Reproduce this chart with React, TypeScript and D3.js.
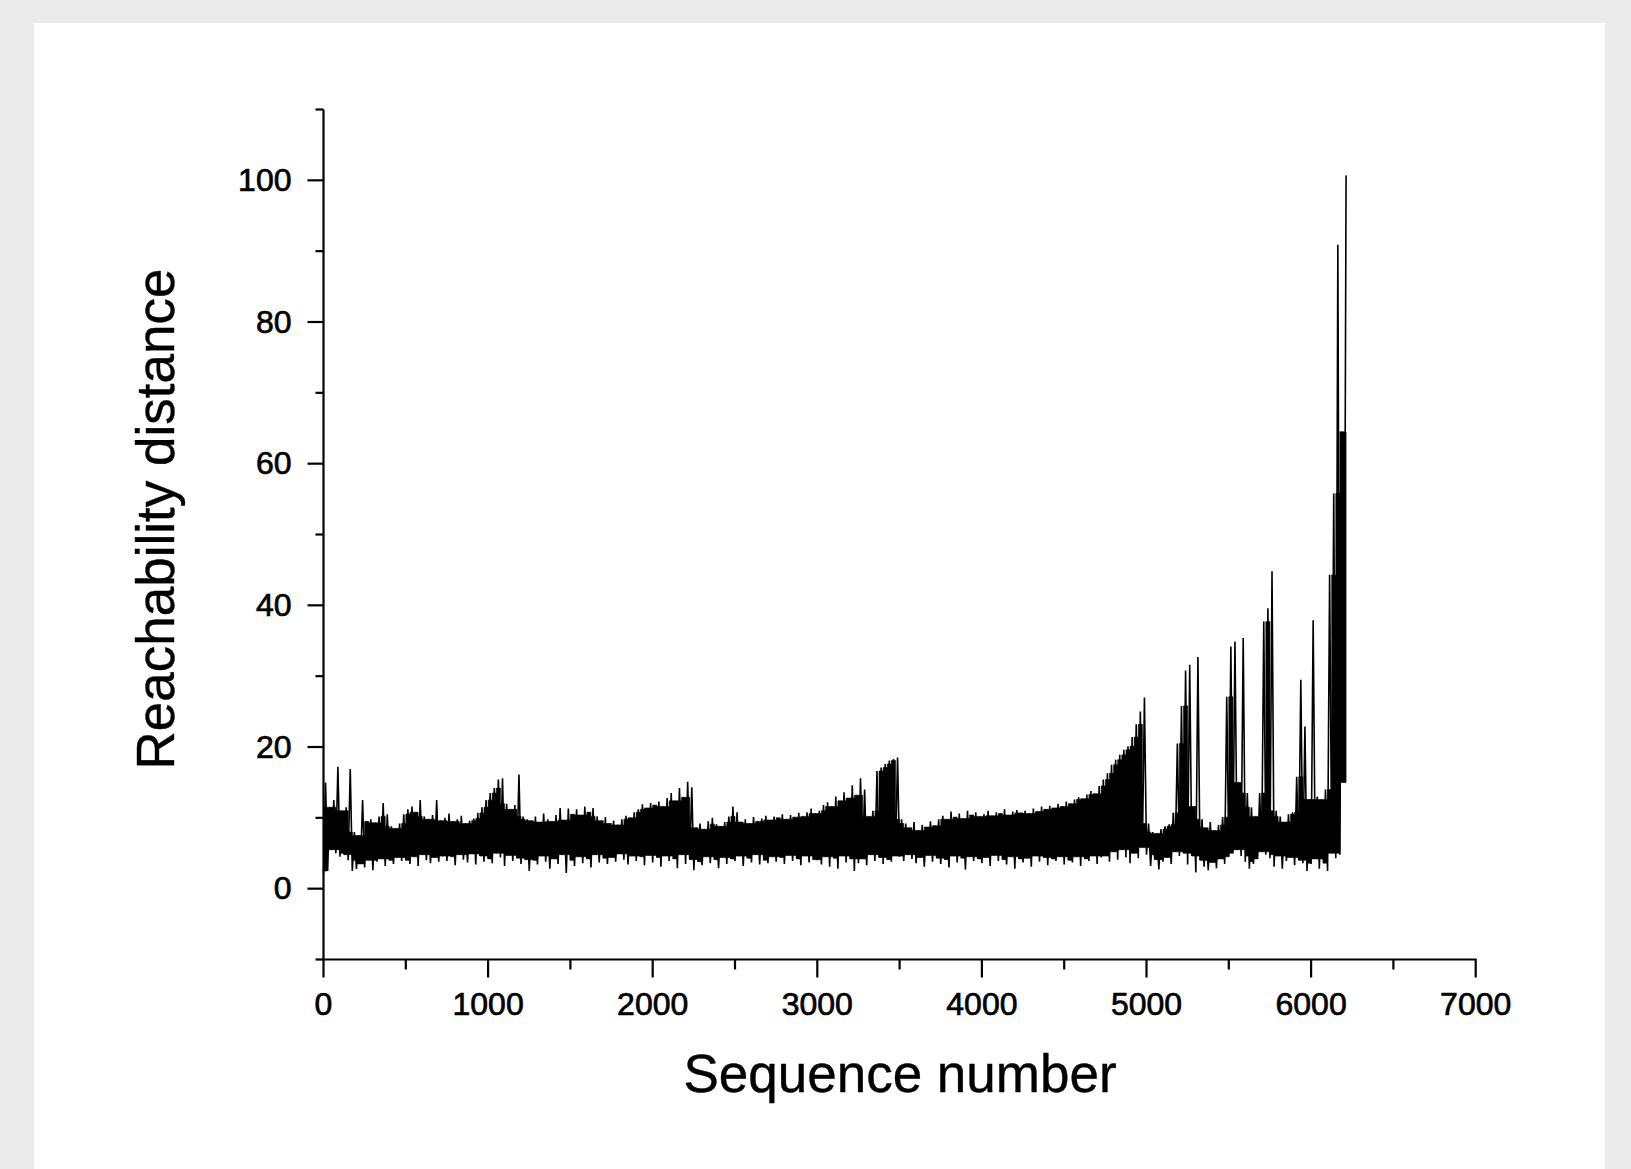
import React from 'react';
import * as d3 from 'd3';

// Reachability plot in bins of 25 sequence numbers.
// For each bin: the lowest and the highest reachability distance seen in it.
const binStep = 25;

const upperValues = [
  15, 11.5, 12.5, 17.2, 11, 11.5, 16.9, 8, 7.5, 12.5,
  9.5, 9.8, 9.3, 10.2, 12.1, 10.5, 8.8, 8.5, 9.2, 10.5,
  11.2, 11.6, 10.8, 12.5, 10.2, 9.8, 10.4, 12.5, 9.6, 10,
  10.6, 9.5, 9.8, 10.3, 9.2, 9.6, 9.9, 10.7, 11.5, 12.5,
  13.5, 14.2, 15.4, 15.6, 12, 11.2, 11.8, 16.1, 10.2, 9.8,
  9.6, 10.2, 9.4, 10.6, 9.8, 9.5, 10.4, 11.4, 9.7, 11.3,
  10.5, 11.2, 10.4, 11.6, 10.8, 11.4, 10.2, 9.6, 10.1, 9.2,
  9.6, 9, 9.8, 10.3, 10, 10.8, 11.2, 11.9, 11.4, 12.1,
  11.8, 12.3, 11.6, 12.8, 13.5, 12.4, 14.2, 12.9, 15.1, 14.3,
  8.6, 9.2, 8.4, 9.5, 10, 9.1, 8.8, 9.4, 10.2, 11.6,
  10.8, 9.4, 9.8, 9.2, 10.1, 9.5, 9.9, 10.3, 9.7, 10.2,
  10, 10.5, 9.8, 10.4, 10.1, 10.7, 10.2, 10.8, 11.3, 10.6,
  11, 11.8, 12.2, 11.6, 13, 12.4, 13.6, 12.8, 14.6, 13.2,
  15.6, 14, 10.2, 11, 16.6, 17.1, 17.6, 18.1, 18.3, 18.5,
  9.8, 9.2, 8.6, 9.4, 8.2, 9, 8.7, 9.5, 8.9, 9.8,
  10.3, 9.8, 10.9, 10.1, 10.6, 9.9, 11, 10.4, 10.8, 10.2,
  10.5, 11, 10.3, 10.8, 10.6, 11.2, 10.4, 10.9, 11.1, 10.7,
  11, 10.6, 11.3, 10.9, 11.6, 11.2, 11.7, 11.4, 12, 11.6,
  12.3, 12, 12.6, 12.9, 12.7, 13.3, 13.8, 13.4, 14.5, 15.4,
  16.3, 17.5, 18.2, 18.9, 19.6, 20.1, 21.4, 23.2, 25, 27,
  9.2, 8, 7.8, 8.4, 8.8, 9.1, 10.7, 20.5, 25.8, 30.8,
  31.6, 11.6, 32.7, 9.8, 8.6, 9.4, 8.2, 9, 10.1, 27.1,
  34.2, 34.9, 15, 35.4, 13.5, 11.5, 10.2, 13.5, 37.7, 39.6,
  44.8, 11, 10.2, 9.4, 10.5, 10.8, 15.8, 29.5, 22.9, 12.6,
  37.9, 13, 12.6, 14, 44.3, 55.8, 90.9, 64.5, 100.7,
];

const lowerValues = [
  2.2, 2.5, 5.5, 5, 4.5, 4.8, 4, 2.5, 2.8, 3.5,
  3, 4, 2.6, 3.8, 4.2, 3.2, 4, 3.5, 4.4, 3.9,
  4, 3.5, 4.5, 3.2, 4.8, 4, 3.6, 4.4, 3.8, 4.6,
  3.9, 4.5, 3.3, 4.8, 4.1, 3.7, 4.9, 3.4, 4.6, 3.8,
  4.2, 3.6, 5, 4.4, 3.2, 4.7, 3.9, 4.3, 3.5, 4.1,
  2.5, 4, 3.4, 4.6, 3.8, 2.8, 4.2, 3.5, 4.8, 2.2,
  4, 3.2, 4.5, 3.6, 4.2, 3, 4.8, 3.7, 4.3, 3.5,
  4.4, 3.8, 4.9, 4.1, 3.4, 4.6, 3.9, 4.5, 3.3, 4.7,
  3.7, 4.4, 3.1, 4.6, 3.9, 4.2, 2.9, 4.8, 3.5, 4.1,
  2.6, 3.8, 3.3, 4.5, 3.6, 4.1, 2.9, 4.4, 3.5, 4.2,
  3.9, 4.6, 3.2, 4.3, 3.7, 4.8, 3.4, 4, 3.6, 4.5,
  3.8, 4.4, 3.5, 4.7, 3.9, 4.2, 3.3, 4.6, 3.7, 4.1,
  4, 3.4, 4.5, 3.1, 4.3, 2.8, 4.6, 3.7, 4.2, 2.5,
  3.6, 4.2, 3.3, 4.8, 3.9, 4.4, 3.5, 4.1, 3.8, 4.6,
  4.5, 3.9, 4.8, 4.2, 3.6, 4.4, 3.1, 4.7, 3.8, 4.3,
  3.5, 4.1, 3, 4.6, 3.7, 4.3, 2.7, 4.5, 3.9, 4.2,
  3.6, 4.4, 3.2, 4.7, 3.9, 4.1, 3.4, 4.5, 2.8, 4.2,
  3.7, 4.3, 3.1, 4.6, 3.8, 4.4, 3.3, 4.2, 3.9, 4.5,
  3.4, 4, 3.7, 4.5, 3.2, 4.2, 3.9, 4.6, 3.5, 4.4,
  4.6, 3.8, 5.2, 4.1, 5.5, 4.4, 3.6, 5, 4.3, 5.8,
  4.8, 3.2, 4.1, 2.7, 3.8, 4.4, 3.5, 5.2, 4.6, 5,
  3.4, 4.6, 2.3, 4, 3.1, 2.6, 3.7, 2.9, 4.2, 3.5,
  4.5, 5, 5.5, 4.6, 3.8, 2.8, 3.5, 4.2, 5.2, 4.8,
  4.3, 3.1, 4.6, 2.8, 3.9, 4.4, 3.3, 4, 3.6, 2.5,
  3.5, 4.2, 2.8, 3.6, 2.5, 5, 4.3, 4.8, 15,
];

const xMajorTicks = [0, 1000, 2000, 3000, 4000, 5000, 6000, 7000];
const xMinorTicks = [500, 1500, 2500, 3500, 4500, 5500, 6500];
const yMajorTicks = [0, 20, 40, 60, 80, 100];
const yMinorTicks = [-10, 10, 30, 50, 70, 90, 110];
const xTitle = 'Sequence number';
const yTitle = 'Reachability distance';

const FONT = "'Liberation Sans', Arial, Helvetica, sans-serif";

type Bin = { seq: number; lo: number; hi: number };

export default function App() {
  const W = 1631;
  const H = 1169;
  const x = d3.scaleLinear().domain([0, 7000]).range([323.5, 1475.7]);
  const y = d3.scaleLinear().domain([-10, 110]).range([959.5, 109.5]);

  const n = upperValues.length;

  // zig-zag through each bin's low and high
  const pts: [number, number][] = [];
  upperValues.forEach((u, i) => {
    pts.push([i * binStep, lowerValues[i]]);
    pts.push([i * binStep + binStep / 2, u]);
  });
  const line = d3
    .line<[number, number]>()
    .x((d) => x(d[0]))
    .y((d) => y(d[1]));

  // the dense core: where neighbouring bins all overlap, the trace is solid
  const bins: Bin[] = upperValues.map((u, i) => {
    const a = Math.max(0, i - 1);
    const b = Math.min(n - 1, i + 1);
    const hi = Math.min(upperValues[a], u, upperValues[b]);
    const lo = Math.max(lowerValues[a], lowerValues[i], lowerValues[b]);
    return { seq: i * binStep, lo, hi };
  });
  const last = bins[bins.length - 1];
  bins.push({ seq: last.seq + binStep / 2, lo: last.lo, hi: last.hi });
  const area = d3
    .area<Bin>()
    .curve(d3.curveStepAfter)
    .x((d) => x(d.seq))
    .y0((d) => y(d.lo))
    .y1((d) => y(d.hi));

  const axisY0 = y(-10);
  const axisX0 = x(0);

  return (
    <svg
      width={W}
      height={H}
      style={{ position: 'absolute', left: 0, top: 0, display: 'block' }}
    >
      <rect x={0} y={0} width={W} height={H} fill="#ebebeb" />
      <rect x={34} y={23} width={1571} height={H - 23} fill="#ffffff" />

      <path d={area(bins) || ''} fill="#000" stroke="#000" strokeWidth={0.6} />
      <path d={line(pts) || ''} fill="none" stroke="#000" strokeWidth={1.6} strokeLinejoin="miter" />

      {/* axes */}
      <line x1={axisX0} x2={axisX0} y1={y(110)} y2={axisY0} stroke="#000" strokeWidth={2.2} />
      <line x1={axisX0 - 1} x2={x(7000) + 1} y1={axisY0} y2={axisY0} stroke="#000" strokeWidth={2.2} />

      {yMajorTicks.map((v) => (
        <g key={'ym' + v}>
          <line x1={axisX0 - 16} x2={axisX0} y1={y(v)} y2={y(v)} stroke="#000" strokeWidth={2.2} />
          <text
            x={axisX0 - 32}
            y={y(v) + 10.5}
            textAnchor="end"
            fontFamily={FONT}
            fontSize={32}
            fill="#000"
            stroke="#000"
            strokeWidth={0.7}
          >
            {v}
          </text>
        </g>
      ))}
      {yMinorTicks.map((v) => (
        <line key={'yn' + v} x1={axisX0 - 8} x2={axisX0} y1={y(v)} y2={y(v)} stroke="#000" strokeWidth={2.2} />
      ))}

      {xMajorTicks.map((v) => (
        <g key={'xm' + v}>
          <line x1={x(v)} x2={x(v)} y1={axisY0} y2={axisY0 + 18} stroke="#000" strokeWidth={2.2} />
          <text
            x={x(v)}
            y={1015}
            textAnchor="middle"
            fontFamily={FONT}
            fontSize={32}
            fill="#000"
            stroke="#000"
            strokeWidth={0.7}
          >
            {v}
          </text>
        </g>
      ))}
      {xMinorTicks.map((v) => (
        <line key={'xn' + v} x1={x(v)} x2={x(v)} y1={axisY0} y2={axisY0 + 10} stroke="#000" strokeWidth={2.2} />
      ))}

      <text x={900} y={1092} textAnchor="middle" fontFamily={FONT} fontSize={53} fill="#000" stroke="#000" strokeWidth={0.4}>
        {xTitle}
      </text>
      <text
        transform="translate(174,519) rotate(-90)"
        textAnchor="middle"
        fontFamily={FONT}
        fontSize={53}
        fill="#000"
        stroke="#000"
        strokeWidth={0.4}
      >
        {yTitle}
      </text>
    </svg>
  );
}
